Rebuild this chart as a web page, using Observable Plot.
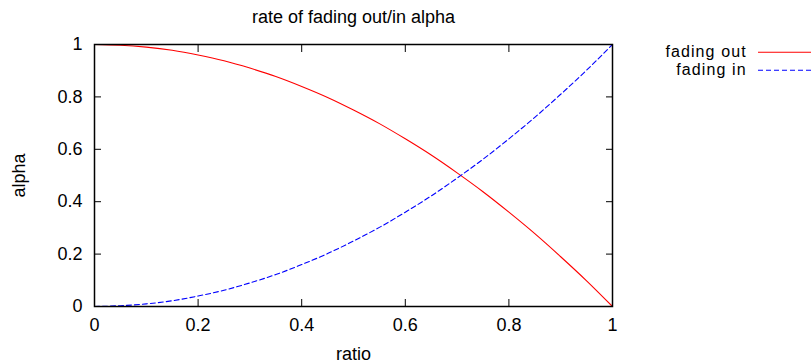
<!DOCTYPE html>
<html><head><meta charset="utf-8">
<script src="https://cdn.jsdelivr.net/npm/d3@7"></script>
<script src="https://cdn.jsdelivr.net/npm/@observablehq/plot@0.6"></script>
<style>
body{margin:0;background:#fff;}
#wrap{position:relative;width:811px;height:363px;}
#legend{position:absolute;left:0;top:0;}
</style></head><body><div id="wrap"></div>
<script>
const titleText = ["rate of fading out/in alpha"];
const xLabel = "ratio";
const yLabel = "alpha";
const ratio = [0,0.05,0.1,0.15,0.2,0.25,0.3,0.35,0.4,0.45,0.5,0.55,0.6,0.65,0.7,0.75,0.8,0.85,0.9,0.95,1];
const fadingOut = [1.00,0.997,0.99,0.978,0.96,0.938,0.91,0.878,0.84,0.798,0.75,0.698,0.64,0.578,0.51,0.438,0.36,0.278,0.19,0.098,0.00];
const fadingIn = [0.00,0.003,0.01,0.022,0.04,0.062,0.09,0.122,0.16,0.202,0.25,0.302,0.36,0.422,0.49,0.562,0.64,0.722,0.81,0.902,1.00];
const xTicks = [0,0.2,0.4,0.6,0.8,1];
const yTicks = [0,0.2,0.4,0.6,0.8,1];
const seriesNames = ["fading out","fading in"];
const seriesColors = ["#ff0000","#0000ff"];
const seriesDash = ["none","5,3"];
const seriesValues = [fadingOut, fadingIn];

const rows = seriesNames.flatMap((name,i)=> ratio.map((r,j)=>({series:name, ratio:r, alpha: seriesValues[i][j]})));

const FONT = "'Liberation Sans', Arial, Helvetica, sans-serif";
const FS = 18;
const LEGEND_FS = 16;
const fmt = d => String(d);
const blank = () => "";

const chart = Plot.plot({
  width: 811, height: 363,
  marginLeft: 94, marginRight: 199, marginTop: 44, marginBottom: 57,
  style: {fontFamily: FONT, fontSize: FS + "px", color: "black", background: "white"},
  x: {domain: [0, 1]},
  y: {domain: [0, 1]},
  marks: [
    ...seriesNames.map((name, i) => Plot.line(rows.filter(d => d.series === name), {
      x: "ratio", y: "alpha", stroke: seriesColors[i], strokeWidth: 1.1,
      strokeDasharray: seriesDash[i], curve: "natural"
    })),
    Plot.axisX({anchor: "bottom", ticks: xTicks, tickSize: -7, tickPadding: 19, tickFormat: fmt,
      label: xLabel, labelAnchor: "center", labelOffset: 53, labelArrow: "none", fontSize: FS}),
    Plot.axisX({anchor: "top", ticks: xTicks, tickSize: -7, tickFormat: blank, label: null}),
    Plot.axisY({anchor: "left", ticks: yTicks, tickSize: -7, tickPadding: 19, tickFormat: fmt,
      label: yLabel, labelAnchor: "center", labelOffset: 82, labelArrow: "none", fontSize: FS}),
    Plot.axisY({anchor: "right", ticks: yTicks, tickSize: -7, tickFormat: blank, label: null}),
    Plot.frame({stroke: "black", strokeWidth: 1.5}),
    Plot.text(titleText, {frameAnchor: "top", lineAnchor: "middle", dy: -27, fontSize: FS})
  ]
});
const wrap = document.getElementById("wrap");
wrap.appendChild(chart);

// legend overlay
const lg = d3.select(wrap).append("svg").attr("id", "legend")
  .attr("width", 811).attr("height", 363)
  .style("font-family", FONT).style("font-size", LEGEND_FS + "px");
const legendY0 = 52.3, legendStep = 18;
seriesNames.forEach((name, i) => {
  const y = legendY0 + i * legendStep;
  lg.append("text").attr("x", 746.7).attr("y", y).attr("dy", "0.32em")
    .attr("text-anchor", "end").attr("fill", "black")
    .style("letter-spacing", "1.1px").text(name);
  lg.append("line").attr("x1", 758).attr("x2", 811).attr("y1", y).attr("y2", y)
    .attr("stroke", seriesColors[i]).attr("stroke-width", 1.1)
    .attr("stroke-dasharray", seriesDash[i]);
});
</script></body></html>
